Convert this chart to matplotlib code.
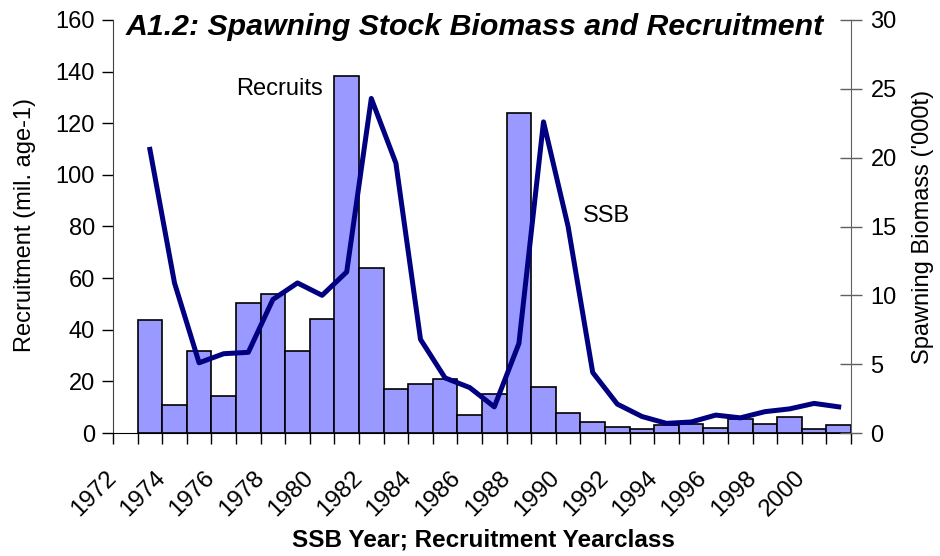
import numpy as np
import matplotlib
matplotlib.use("Agg")
import matplotlib.pyplot as plt

plt.rcParams['font.family'] = ['Liberation Sans', 'DejaVu Sans']

# SSB year / recruitment yearclass
years = list(range(1973, 2002))
recruits = [43.6, 10.7, 31.9, 14.3, 50.3, 53.9, 31.9, 44.3, 138.3, 64.1,
            16.9, 19.1, 20.9, 7.1, 15.0, 124.0, 17.9, 7.7, 4.1, 2.3,
            1.7, 3.0, 3.5, 1.8, 5.6, 3.5, 6.1, 1.7, 3.0]
ssb = [20.6, 10.9, 5.1, 5.76, 5.86, 9.7, 10.9, 10.0, 11.7, 24.3,
       19.6, 6.8, 4.0, 3.3, 1.9, 6.5, 22.6, 15.0, 4.4, 2.1,
       1.2, 0.7, 0.8, 1.3, 1.1, 1.55, 1.75, 2.15, 1.9]
first_label_year = 1972
n_slots = 30

W, H = 940, 556
fig = plt.figure(figsize=(W / 100, H / 100), dpi=100)
left, right, bottom, top = 113, 851, 433, 20
ax = fig.add_axes([left / W, 1 - bottom / H, (right - left) / W, (bottom - top) / H])

ax.bar(years, recruits, width=1.0, color='#9999FF', edgecolor='black',
       linewidth=1.2, zorder=2)
ax.set_xlim(first_label_year - 0.5, first_label_year - 0.5 + n_slots)
ax.set_ylim(0, 160)
ax.set_yticks(range(0, 161, 20))

# category boundaries carry the ticks; every other one gets a year label
bounds = [first_label_year - 0.5 + i for i in range(n_slots + 1)]
labels = [str(first_label_year + i) if (i % 2 == 0 and i < n_slots - 1) else ''
          for i in range(n_slots + 1)]
ax.set_xticks(bounds)
ax.set_xticklabels(labels, rotation=45, ha='right', va='center',
                   rotation_mode='anchor', fontsize=17.5)
ax.tick_params(axis='x', direction='out', length=8, width=1, pad=22)
ax.tick_params(axis='y', direction='out', length=8, width=1, pad=5,
               labelsize=17, colors='black')

for s in ['top', 'right']:
    ax.spines[s].set_visible(False)
ax.spines['left'].set_color('#404040')
ax.spines['bottom'].set_color('black')

ax2 = ax.twinx()
ax2.plot(years, ssb, color='#000080', linewidth=3.6, solid_joinstyle='round')
ax2.set_ylim(0, 30)
ax2.set_yticks(range(0, 31, 5))
ax2.tick_params(axis='y', direction='inout', length=16, width=1, pad=6,
                labelsize=17, color='#606060')
for s in ['top', 'left', 'bottom']:
    ax2.spines[s].set_visible(False)
ax2.spines['right'].set_color('#606060')

fig.text(126 / W, 1 - 35 / H, 'A1.2: Spawning Stock Biomass and Recruitment',
         fontsize=21.8, fontweight='bold', fontstyle='italic',
         ha='left', va='baseline')
fig.text(236 / W, 1 - 95 / H, 'Recruits', fontsize=17, ha='left', va='baseline')
fig.text(583 / W, 1 - 222 / H, 'SSB', fontsize=17, ha='left', va='baseline')

fig.text(25 / W, 1 - 225 / H, 'Recruitment (mil. age-1)', fontsize=17,
         rotation=90, ha='center', va='center')
fig.text(923 / W, 1 - 227 / H, "Spawning Biomass ('000t)", fontsize=17,
         rotation=90, ha='center', va='center')
fig.text(483 / W, 1 - 540 / H, 'SSB Year; Recruitment Yearclass', fontsize=17.5,
         fontweight='bold', ha='center', va='center')

fig.savefig('out.png', dpi=100)
